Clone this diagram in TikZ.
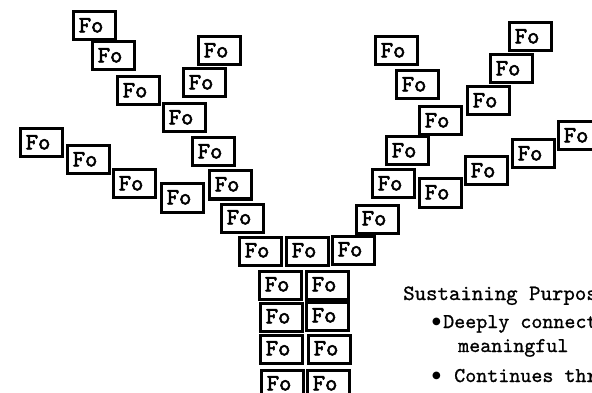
\documentclass[tikz,border=0pt]{standalone}
\usepackage{fontspec}
\newfontfamily\mono[FakeBold=2.2]{lmmono10-regular.otf}
\newfontfamily\monot[FakeBold=0.9]{lmmono10-regular.otf}
\newfontfamily\bul{DejaVu Sans}
\newcommand\fobox[3]{\node[fo] (#1) at (#2+1.5,#3+1.5) {\makebox[31pt][l]{\raisebox{1.5pt}{Fo}}};}
\newcommand\mybullet{\makebox[11pt][l]{\raisebox{3.2pt}{\bul\fontsize{10}{10}\selectfont ●}}}
\begin{document}
\begin{tikzpicture}[x=1pt,y=-1pt,
  fo/.style={draw, line width=3pt, fill=white, minimum width=42.5pt, minimum height=28pt,
    inner sep=0pt, anchor=north west, font=\mono\fontsize{23.5}{23.5}\selectfont},
  txt/.style={anchor=base west, inner sep=0pt, font=\monot\fontsize{21.8}{21.8}\selectfont},
  btxt/.style={txt, font=\monot\fontsize{21}{21}\selectfont}]
\useasboundingbox (0,0) rectangle (592,393);
\clip (0,0) rectangle (592,393);
% left arm
\fobox{b1}{70}{9}
\fobox{b2}{89}{39}
\fobox{b3}{114}{74}
\fobox{b4}{160}{101}
\fobox{b5}{195}{34}
\fobox{b6}{180}{66}
\fobox{b7}{189}{135}
\fobox{b8}{206}{168}
\fobox{b9}{17}{126}
\fobox{b10}{64}{143}
\fobox{b11}{110}{167}
\fobox{b12}{158}{181}
\fobox{b13}{218}{201}
\fobox{b14}{236}{234}
\fobox{b15}{283}{234}
\fobox{b16}{329}{233}
\fobox{b17}{353}{202}
% right arm
\fobox{ra}{506}{20}
\fobox{rb}{487}{52}
\fobox{rc}{464}{84}
\fobox{rd}{372}{34}
\fobox{re}{393}{68}
\fobox{rf}{416}{104}
\fobox{rg}{383}{134}
\fobox{rh}{369}{167}
\fobox{ri}{416}{176}
\fobox{rj}{462}{154}
\fobox{rk}{509}{137}
\fobox{rl}{555}{119}
% trunk
\fobox{t1}{256}{268}
\fobox{t2}{257}{300}
\fobox{t3}{257}{332}
\fobox{t4}{258}{367}
\fobox{u1}{303}{268}
\fobox{u2}{303}{299}
\fobox{u3}{305}{332}
\fobox{u4}{304}{367}
% text
\node[txt] (head) at (403,300) {Sustaining Purpose};
\node[btxt] (l1) at (432,328) {\mybullet Deeply connected};
\node[btxt] (l2) at (458,352) {meaningful};
\node[btxt] (l3) at (432,382) {\mybullet\ Continues through};
\end{tikzpicture}
\end{document}
